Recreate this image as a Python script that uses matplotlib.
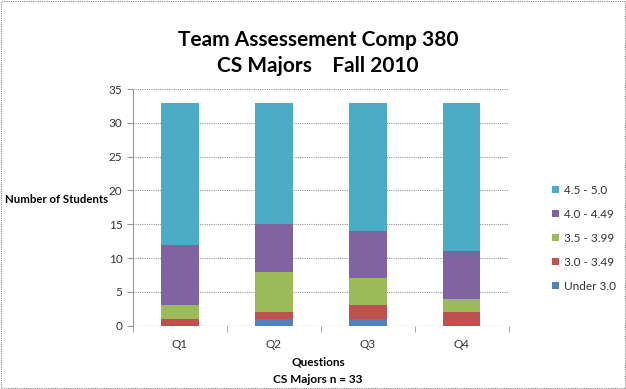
import matplotlib
matplotlib.use("Agg")
import matplotlib.pyplot as plt
from matplotlib.patches import Rectangle
import numpy as np

plt.rcParams["font.family"] = ["Lato", "DejaVu Sans"]

questions = ["Q1", "Q2", "Q3", "Q4"]
ranges = ["Under 3.0", "3.0 - 3.49", "3.5 - 3.99", "4.0 - 4.49", "4.5 - 5.0"]
under_3 = [0, 1, 1, 0]
r30_349 = [1, 1, 2, 2]
r35_399 = [2, 6, 4, 2]
r40_449 = [9, 7, 7, 7]
r45_50 = [21, 18, 19, 22]
series = [under_3, r30_349, r35_399, r40_449, r45_50]
colors = ["#4F81BD", "#C0504D", "#9BBB59", "#8064A2", "#4BACC6"]

fig = plt.figure(figsize=(6.26, 3.89), dpi=100)
ax = fig.add_axes([0.2125, 0.163, 0.6, 0.608])

x = np.arange(len(questions))
bottom = np.zeros(len(questions))
bars = []
for vals, c, lab in zip(series, colors, ranges):
    b = ax.bar(x, vals, 0.4, bottom=bottom, color=c, label=lab, zorder=3)
    bars.append(b)
    bottom += np.array(vals)

ax.set_xlim(-0.5, 3.5)
ax.set_ylim(0, 35)
ax.set_yticks(range(0, 36, 5))
ax.set_xticks(x)
ax.set_xticklabels(questions)
ax.set_xticks(np.arange(-0.5, 4, 1), minor=True)
ax.tick_params(axis="x", which="major", length=0, pad=10, labelsize=8.5, colors="#333333")
ax.tick_params(axis="x", which="minor", length=4, color="#999999")
ax.tick_params(axis="y", length=4, color="#999999", labelsize=8.5, labelcolor="#333333")
ax.yaxis.grid(True, color="#999999", ls=(0, (1, 1)), lw=0.8, zorder=0)
for s in ["top", "right", "bottom"]:
    ax.spines[s].set_visible(False)
ax.spines["left"].set_color("#999999")
ax.spines["left"].set_linestyle((0, (1, 1)))
ax.spines["left"].set_linewidth(0.8)
ax.axhline(0, color="#999999", lw=0.8, ls=(0, (1, 1)), zorder=1)

fig.text(0.508, 0.897, "Team Assessement Comp 380", ha="center", va="center",
         fontsize=15, fontweight="bold")
fig.text(0.508, 0.830, "CS Majors    Fall 2010", ha="center", va="center",
         fontsize=15, fontweight="bold")
fig.text(0.008, 0.488, "Number of Students", ha="left", va="center",
         fontsize=8.2, fontweight="bold")
fig.text(0.508, 0.070, "Questions", ha="center", va="center",
         fontsize=8.5, fontweight="bold")
fig.text(0.508, 0.025, "CS Majors n = 33", ha="center", va="center",
         fontsize=8.5, fontweight="bold")

handles = [bars[i] for i in range(len(ranges) - 1, -1, -1)]
labels = [ranges[i] for i in range(len(ranges) - 1, -1, -1)]
leg = fig.legend(handles, labels, loc="center left", bbox_to_anchor=(0.865, 0.388),
                 frameon=False, fontsize=8.5, handlelength=0.6, handleheight=0.6,
                 handletextpad=0.4, labelspacing=1.1)
for t in leg.get_texts():
    t.set_color("#333333")

fig.patches.append(Rectangle((0.002, 0.002), 0.996, 0.996, transform=fig.transFigure,
                             fill=False, ec="#888888", lw=0.8, ls=(0, (1, 1))))

fig.savefig("out.png", dpi=100)
